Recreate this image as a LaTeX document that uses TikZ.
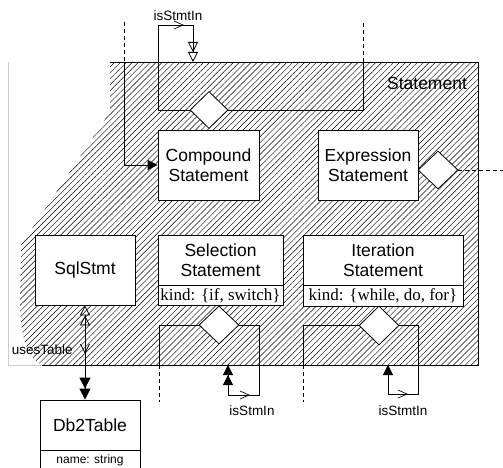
\documentclass[tikz,border=0pt]{standalone}
\usepackage{fontspec}
\setmainfont{Liberation Sans}
\newfontfamily\timesf{Liberation Serif}
\usetikzlibrary{shapes.geometric,arrows.meta,patterns.meta}
\tikzset{
  every path/.style={line width=0.8pt},
  box/.style={draw,fill=white,rectangle,inner sep=0pt,align=center,
    font=\fontsize{17.5}{19.5}\selectfont},
  attr/.style={draw,fill=white,rectangle,inner sep=0pt,
    font=\timesf\fontsize{17}{19}\selectfont},
  attrsmall/.style={draw,fill=white,rectangle,inner sep=0pt,
    font=\fontsize{12}{14}\selectfont},
  dia/.style={draw,fill=white,diamond,inner sep=0pt},
  lbl/.style={inner sep=0pt,font=\fontsize{13.5}{15}\selectfont},
  bigl/.style={inner sep=0pt,font=\fontsize{17.5}{19.5}\selectfont},
  dsh/.style={dash pattern=on 4pt off 3pt},
  chev/.style={line width=0.7pt},
  endhol2/.style={-{Triangle[open,length=10pt,width=10pt,sep=0pt]Triangle[open,length=10pt,width=10pt,sep=0pt]}},
  endful1/.style={-{Triangle[length=10pt,width=10pt,sep=0pt]}},
  endful2/.style={-{Triangle[length=10pt,width=10pt,sep=0pt]Triangle[length=10pt,width=10pt,sep=0pt]}},
  holful/.style={{Triangle[open,length=10pt,width=10pt,sep=0pt]Triangle[open,length=10pt,width=10pt,sep=0pt]}-{Triangle[length=11pt,width=11pt,sep=0pt]Triangle[length=11pt,width=11pt,sep=0pt]}},
}
\begin{document}
\begin{tikzpicture}[x=1pt,y=-1pt]
\useasboundingbox (0,0) rectangle (503,468);
% light frame
\draw[color=black!20] (8,62) -- (8,365) -- (42,365);
% hatched area
\fill[pattern={Lines[angle=45,distance=4.2pt,line width=0.45pt]}]
  (110,62) -- (478,62) -- (478,365) -- (42,365)
  .. controls (26,356) and (20,335) .. (20,300) -- (21,245) -- (110,112) -- cycle;
\draw (110,62) -- (478,62) -- (478,365) -- (42,365);
\node[bigl] (stmtlbl) at (427,83) {Statement};
% class boxes
\node[box,minimum width=101pt,minimum height=70pt] (comp) at (208.5,165) {Compound\\Statement};
\node[box,minimum width=100pt,minimum height=70pt] (expr) at (368,165) {Expression\\Statement};
\node[box,minimum width=100pt,minimum height=70pt] (sql) at (85,270) {SqlStmt};
\node[box,minimum width=125pt,minimum height=50pt] (sel) at (220.5,260) {Selection\\Statement};
\node[attr,minimum width=125pt,minimum height=20pt,anchor=north] (selk) at (sel.south) {kind: \{if, switch\}};
\node[box,minimum width=160pt,minimum height=50pt] (iter) at (383,260) {Iteration\\Statement};
\node[attr,minimum width=160pt,minimum height=21pt,anchor=north] (iterk) at (iter.south) {kind: \{while, do, for\}};
\node[box,minimum width=100pt,minimum height=50pt] (db) at (90,425) {Db2Table};
\node[attrsmall,minimum width=100pt,minimum height=20pt,anchor=north] (dbk) at (db.south) {name: string};
% diamonds
\node[dia,minimum width=38pt,minimum height=37pt] (d1) at (209,110) {};
\node[dia,minimum width=40pt,minimum height=38pt] (d2) at (438,170) {};
\node[dia,minimum width=40pt,minimum height=38pt] (d3) at (219,325) {};
\node[dia,minimum width=40pt,minimum height=39pt] (d4) at (379,325.5) {};
% coordinates
\coordinate (topin) at (193,62);
\coordinate (toploop) at (158,25);
\coordinate (innerR) at (363,62);
\coordinate (innerRd) at (363,22);
\coordinate (cmpTop) at (124,22);
\coordinate (cmpIn) at (124,62);
\coordinate (exprEnd) at (503,170);
\coordinate (selL) at (159,365);
\coordinate (selLd) at (159,402);
\coordinate (selR) at (259,395);
\coordinate (selIn) at (228,365);
\coordinate (itL) at (303,365);
\coordinate (itLd) at (303,402);
\coordinate (itR) at (418,394);
\coordinate (itIn) at (388,365);
% top loop
\draw[endhol2] (d1.west) -| (toploop) -| (topin);
\draw (d1.east) -| (innerR);
\draw[dsh] (innerR) -- (innerRd);
\draw[chev] (174,21) -- (183,25) -- (174,29);
\node[lbl] (lt) at (178,16) {isStmtIn};
% compound arrow
\draw[dsh] (cmpTop) -- (cmpIn);
\draw[endful1] (cmpIn) |- (comp.west);
% expression
\draw[dsh] (d2.east) -- (exprEnd);
% sql - db2
\draw[holful] (sql.south) -- (sql.south |- db.north);
\draw[chev] (80.5,344) -- (85,353) -- (89.5,344);
\node[lbl,anchor=east] (lu) at (73,350) {usesTable};
% selection loop
\draw (d3.west) -| (selL);
\draw[dsh] (selL) -- (selLd);
\draw[endful2] (d3.east) -| (selR) -| (selIn);
\draw[chev] (240,391) -- (249,395) -- (240,399);
\node[lbl] (ls) at (252,411) {isStmIn};
% iteration loop
\draw (d4.west) -| (itL);
\draw[dsh] (itL) -- (itLd);
\draw[endful1] (d4.east) -| (itR) -| (itIn);
\draw[chev] (398,390) -- (407,394) -- (398,398);
\node[lbl] (li) at (403,411) {isStmtIn};
\end{tikzpicture}
\end{document}
